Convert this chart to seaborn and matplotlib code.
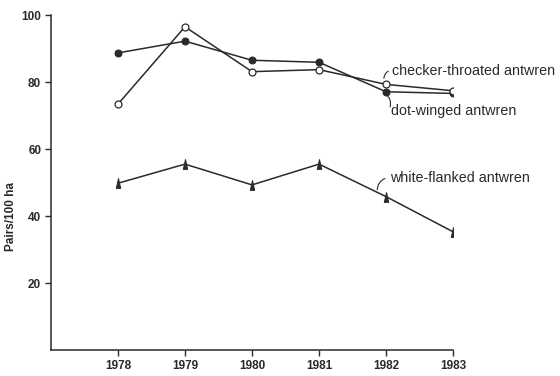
import matplotlib
matplotlib.use("Agg")
import matplotlib.pyplot as plt
from matplotlib.path import Path
import seaborn as sns
import pandas as pd

years = [1978, 1979, 1980, 1981, 1982, 1983]
checker_throated = [73.4, 96.5, 83.1, 83.7, 79.3, 77.4]
dot_winged = [88.7, 92.2, 86.5, 85.9, 77.1, 76.6]
white_flanked = [49.8, 55.5, 49.3, 55.5, 45.8, 35.3]

sns.set_style("ticks")
plt.rcParams['font.family'] = ['Liberation Sans', 'DejaVu Sans']

fig = plt.figure(figsize=(5.6, 3.76), dpi=100)
ax = fig.add_axes([0.091, 0.069, 0.718, 0.891])

ink = "#2a2a2a"
df = pd.DataFrame({"year": years, "checker": checker_throated,
                   "dot": dot_winged, "white": white_flanked})

# narrow cone-like triangle, as in the printed figure
cone = Path([(-0.45, -1), (0.45, -1), (0, 1), (-0.45, -1)],
            [Path.MOVETO, Path.LINETO, Path.LINETO, Path.CLOSEPOLY])

sns.lineplot(data=df, x="year", y="dot", ax=ax, color=ink, lw=1.1,
             marker="o", markersize=5, markerfacecolor=ink, markeredgecolor=ink)
sns.lineplot(data=df, x="year", y="checker", ax=ax, color=ink, lw=1.1,
             marker="o", markersize=5, markerfacecolor="white", markeredgecolor=ink,
             markeredgewidth=0.9)
sns.lineplot(data=df, x="year", y="white", ax=ax, color=ink, lw=1.1,
             marker=cone, markersize=7, markerfacecolor=ink, markeredgecolor=ink)

ax.set_xlim(1977, 1983)
ax.set_ylim(0, 100)
ax.set_xticks(years)
ax.set_xticklabels([str(y) for y in years], fontsize=8.5, fontweight="bold", color=ink)
ax.set_yticks([20, 40, 60, 80, 100])
ax.set_yticklabels(["20", "40", "60", "80", "100"], fontsize=8.5, fontweight="bold", color=ink)
ax.tick_params(axis="both", length=4, width=1, color=ink, pad=3)
ax.set_xlabel("")
ax.set_ylabel("Pairs/100 ha", fontsize=8.5, fontweight="bold", color=ink)
ax.yaxis.set_label_coords(-0.085, 0.40)
for s in ["top", "right"]:
    ax.spines[s].set_visible(False)
for s in ["left", "bottom"]:
    ax.spines[s].set_color(ink)
    ax.spines[s].set_linewidth(1.1)

# labels with small curved leader strokes
ax.text(1982.09, 83.3, "checker-throated antwren", fontsize=10.3, color=ink, va="center")
ax.text(1982.07, 71.3, "dot-winged antwren", fontsize=10.3, color=ink, va="center")
ax.text(1982.06, 51.3, "white-flanked antwren", fontsize=10.3, color=ink, va="center")

ax.annotate("", xy=(1981.97, 80.3), xytext=(1982.07, 83.6),
            arrowprops=dict(arrowstyle="-", color=ink, lw=0.8, connectionstyle="arc3,rad=0.4"))
ax.annotate("", xy=(1981.97, 76.8), xytext=(1982.05, 71.8),
            arrowprops=dict(arrowstyle="-", color=ink, lw=0.8, connectionstyle="arc3,rad=0.4"))
ax.annotate("", xy=(1981.87, 47.0), xytext=(1982.02, 51.5),
            arrowprops=dict(arrowstyle="-", color=ink, lw=0.8, connectionstyle="arc3,rad=0.4"))

fig.savefig("out.png", dpi=100)
